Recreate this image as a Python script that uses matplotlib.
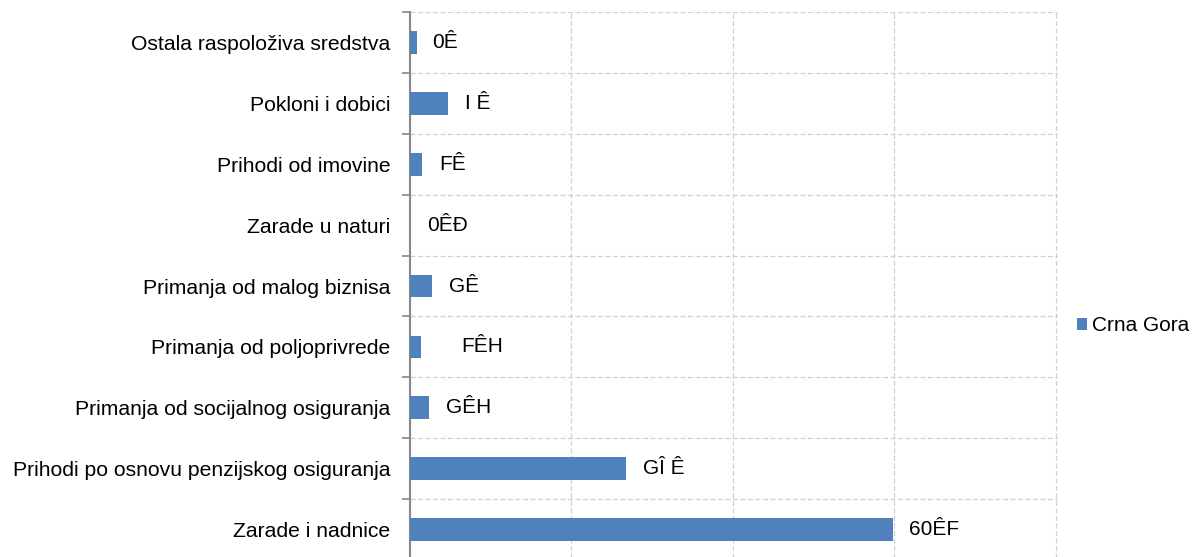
import matplotlib.pyplot as plt
import numpy as np

plt.rcParams['font.family'] = ['Liberation Sans', 'DejaVu Sans']

categories = ["Zarade i nadnice",
              "Prihodi po osnovu penzijskog osiguranja",
              "Primanja od socijalnog osiguranja",
              "Primanja od poljoprivrede",
              "Primanja od malog biznisa",
              "Zarade u naturi",
              "Prihodi od imovine",
              "Pokloni i dobici",
              "Ostala raspoloživa sredstva"]
values = [59.8, 26.7, 2.3, 1.4, 2.7, 0.05, 1.5, 4.7, 0.9]
labels = ["60ÊF", "GÎ Ê", "GÊH", "FÊH", "GÊ", "0ÊÐ", "FÊ", "I Ê", "0Ê"]
label_offset = [2.0, 2.1, 2.1, 5.0, 2.1, 2.1, 2.1, 2.1, 1.9]

fig = plt.figure(figsize=(11.97, 5.57), dpi=100)
ax = fig.add_axes([0.3425, -0.005, 0.541, 0.983])

y = np.arange(len(categories))
bars = ax.barh(y, values, height=0.37, color='#4F81BD', label='Crna Gora', zorder=3)

for yi, v, lab, off in zip(y, values, labels, label_offset):
    ax.text(v + off, yi, lab, va='center', ha='left', fontsize=15, color='black')

ax.set_xlim(0, 80.2)
ax.set_ylim(-0.5, len(categories) - 0.5)
ax.set_xticks([0, 20, 40, 60, 80])
ax.set_xticklabels([])
ax.tick_params(axis='x', length=0)
ax.set_yticks(y)
ax.set_yticklabels(categories, fontsize=15.2)
ax.tick_params(axis='y', which='major', length=0, pad=14)
ax.set_yticks(np.arange(-0.5, len(categories), 1), minor=True)
ax.tick_params(axis='y', which='minor', length=6, color='#888888', width=1.2)

ax.grid(True, axis='x', which='major', linestyle=(0, (4, 2)), color='#d0d0d0', lw=0.9, zorder=0)
ax.grid(True, axis='y', which='minor', linestyle=(0, (4, 2)), color='#d0d0d0', lw=0.9, zorder=0)

for s in ['top', 'right', 'bottom']:
    ax.spines[s].set_visible(False)
ax.spines['left'].set_color('#888888')
ax.spines['left'].set_linewidth(1.5)

fig.legend(handles=[bars], labels=['Crna Gora'], loc='center left',
           bbox_to_anchor=(0.8995, 0.415), frameon=False, fontsize=15,
           handlelength=0.5, handleheight=0.5, handletextpad=0.25,
           borderpad=0, borderaxespad=0)

fig.savefig('out.png', dpi=100)
